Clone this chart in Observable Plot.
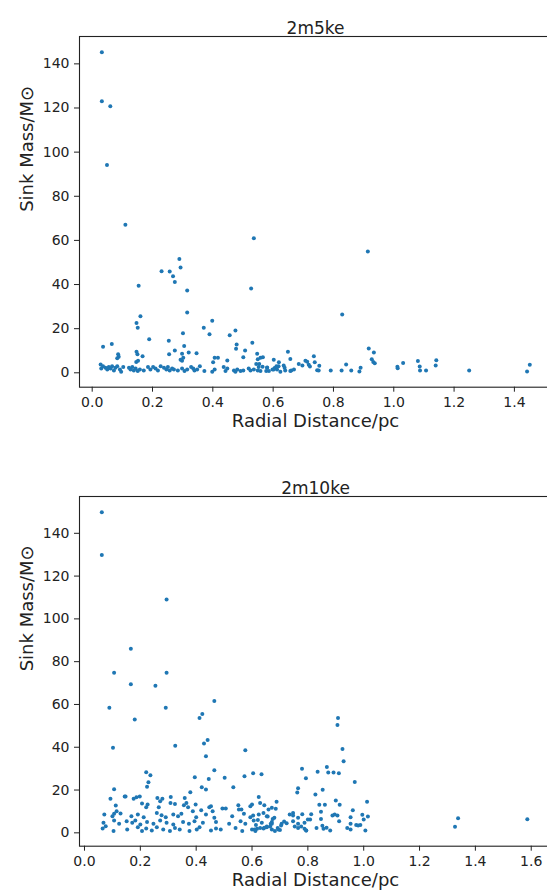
<!DOCTYPE html>
<html><head><meta charset="utf-8">
<script src="https://cdn.jsdelivr.net/npm/d3@7"></script>
<script src="https://cdn.jsdelivr.net/npm/@observablehq/plot@0.6"></script>
<style>
html,body{margin:0;padding:0;background:#fff;overflow:hidden;width:547px;height:894px;position:relative}
#top,#bot{position:absolute;left:0;width:547px;overflow:hidden}
#top{top:0;height:460px}
#bot{top:460px;height:434px}
#top svg,#bot svg{max-width:none !important;width:552px;display:block}
</style></head><body>
<div id="top"></div><div id="bot"></div>
<script>
// Panel titles and axis labels
const titles = ["2m5ke", "2m10ke"];
const xLabel = "Radial Distance/pc";
const yLabel = "Sink Mass/M⊙";

// Tick values
const xTicksTop = [0, 0.2, 0.4, 0.6, 0.8, 1.0, 1.2, 1.4];
const xTicksBottom = [0, 0.2, 0.4, 0.6, 0.8, 1.0, 1.2, 1.4, 1.6];
const yTicks = [0, 20, 40, 60, 80, 100, 120, 140];

// 2m5ke: [radial distance (pc), sink mass (Msun)]
const m5kePoints = [
  [0.032,145.3],[0.032,123.1],[0.060,120.8],[0.049,94.2],[0.110,67.1],[0.536,61.0],
  [0.289,51.6],[0.293,47.7],[0.230,46.0],[0.257,45.9],[0.268,43.8],[0.274,41.1],
  [0.154,39.4],[0.315,37.3],[0.527,38.2],[0.315,27.3],[0.160,25.6],[0.147,22.6],
  [0.151,20.4],[0.398,23.6],[0.370,20.4],[0.389,17.5],[0.301,17.9],[0.475,19.2],
  [0.456,17.0],[0.189,15.2],[0.254,14.5],[0.065,13.1],[0.036,11.8],[0.305,12.2],
  [0.479,12.8],[0.531,13.6],[0.477,10.9],[0.274,10.1],[0.507,10.1],[0.320,9.2],
  [0.346,8.9],[0.255,8.4],[0.086,8.4],[0.088,7.3],[0.083,6.6],[0.147,9.5],
  [0.150,8.4],[0.146,4.9],[0.152,5.5],[0.167,7.5],[0.298,8.6],[0.302,6.8],
  [0.298,5.5],[0.293,5.9],[0.547,8.6],[0.558,6.8],[0.549,6.2],[0.649,9.5],
  [0.657,6.3],[0.602,5.9],[0.501,7.1],[0.406,6.8],[0.417,6.8],[0.448,5.6],
  [0.401,4.8],[0.685,4.0],[0.707,5.5],[0.718,3.6],[0.619,4.8],[0.635,3.3],
  [0.914,55.0],[0.829,26.4],[0.917,11.0],[0.934,9.2],[0.927,6.2],[0.932,4.9],
  [0.937,4.3],[0.566,7.0],[0.735,7.5],[0.738,4.8],[0.753,3.2],[0.722,2.9],
  [0.713,5.0],[0.697,3.3],[0.746,1.2],[0.751,1.0],[0.618,3.0],[0.605,2.2],
  [0.598,1.5],[0.613,1.5],[0.580,2.4],[0.577,0.8],[0.549,1.0],[0.544,4.0],
  [0.554,4.0],[0.565,2.8],[0.640,1.0],[0.660,1.0],[0.791,1.0],[0.827,1.0],
  [0.842,3.8],[0.859,1.0],[0.886,0.6],[0.890,2.3],[1.012,2.7],[1.013,2.1],
  [1.031,4.5],[1.080,5.4],[1.086,2.9],[1.087,1.0],[1.107,1.0],[1.139,3.3],
  [1.141,5.7],[1.250,1.0],[1.442,0.6],[1.451,3.6],
  [0.028,3.8],[0.030,2.0],[0.036,3.0],[0.044,2.3],[0.050,1.5],[0.055,2.6],
  [0.061,2.0],[0.066,3.0],[0.072,1.1],[0.077,2.3],[0.083,3.0],[0.092,1.5],
  [0.096,0.5],[0.103,2.6],[0.122,2.3],[0.127,1.5],[0.133,2.6],[0.138,1.1],
  [0.144,2.0],[0.151,0.8],[0.158,1.5],[0.171,1.1],[0.185,2.6],[0.193,1.5],
  [0.202,2.6],[0.210,2.0],[0.218,1.1],[0.227,3.0],[0.238,2.3],[0.246,1.5],
  [0.251,2.6],[0.257,1.1],[0.265,2.0],[0.271,1.5],[0.284,1.1],[0.298,2.0],
  [0.306,0.8],[0.315,1.5],[0.328,2.6],[0.335,2.0],[0.339,1.1],[0.348,1.5],
  [0.357,3.0],[0.372,0.8],[0.398,0.5],[0.406,1.5],[0.436,2.6],[0.442,0.8],
  [0.448,2.0],[0.470,1.1],[0.475,0.5],[0.481,1.5],[0.492,0.8],[0.501,1.1],
  [0.519,2.0],[0.525,1.1],[0.536,1.5],[0.552,2.6],[0.558,0.8],[0.580,2.3],
  [0.586,0.8],[0.602,1.5],[0.611,3.0],[0.624,0.5],[0.638,2.3],[0.657,0.8],
  [0.669,1.5]
];

// 2m10ke: [radial distance (pc), sink mass (Msun)]
const m10kePoints = [
  [0.062,149.8],[0.062,129.9],[0.294,109.0],[0.166,86.0],[0.106,74.8],[0.294,74.8],
  [0.166,69.5],[0.254,68.7],[0.465,61.6],[0.089,58.5],[0.291,58.5],[0.422,55.5],
  [0.412,53.7],[0.180,53.0],[0.441,43.4],[0.428,41.7],[0.102,39.8],[0.325,40.7],
  [0.576,38.6],[0.435,35.8],[0.465,29.2],[0.221,28.3],[0.236,26.9],[0.604,27.8],
  [0.634,27.4],[0.573,26.4],[0.395,26.0],[0.445,25.2],[0.502,25.7],[0.229,23.6],
  [0.224,21.5],[0.420,21.3],[0.435,20.2],[0.106,20.4],[0.533,21.3],[0.379,19.0],
  [0.093,15.9],[0.144,17.0],[0.147,17.0],[0.176,15.9],[0.186,16.6],[0.198,17.0],
  [0.261,16.3],[0.279,15.9],[0.309,16.8],[0.359,16.3],[0.624,16.8],[0.688,14.5],
  [0.112,12.8],[0.206,13.7],[0.226,13.2],[0.271,14.8],[0.308,14.0],[0.365,14.0],
  [0.398,13.2],[0.453,12.4],[0.551,12.9],[0.600,13.2],[0.644,12.9],[0.671,11.7],
  [0.115,10.1],[0.221,12.0],[0.266,12.0],[0.324,13.5],[0.356,12.9],[0.371,12.0],
  [0.388,10.1],[0.418,10.6],[0.447,12.0],[0.459,10.1],[0.494,11.4],[0.506,11.4],
  [0.553,10.9],[0.562,10.9],[0.594,12.4],[0.629,14.0],[0.659,10.9],
  [0.071,8.6],[0.100,7.8],[0.106,8.9],[0.129,9.0],[0.168,7.8],[0.191,8.6],
  [0.212,7.3],[0.259,9.3],[0.276,8.2],[0.291,7.3],[0.318,8.6],[0.335,7.8],
  [0.347,8.9],[0.400,7.3],[0.435,8.6],[0.465,7.0],[0.529,7.8],[0.571,8.9],
  [0.594,7.3],[0.624,8.6],[0.653,7.8],[0.735,8.6],[0.765,7.0],
  [0.068,4.7],[0.106,5.8],[0.124,4.2],[0.151,5.4],[0.171,4.7],[0.182,5.8],
  [0.200,3.9],[0.224,5.1],[0.247,4.2],[0.271,5.8],[0.294,4.7],[0.318,3.9],
  [0.353,5.1],[0.374,4.2],[0.394,5.4],[0.424,4.7],[0.471,5.1],[0.518,4.2],
  [0.559,5.4],[0.576,4.2],[0.606,5.8],[0.635,4.7],[0.671,5.1],[0.706,4.2],
  [0.747,5.4],[0.788,4.7],
  [0.065,2.0],[0.076,3.1],[0.104,0.8],[0.153,1.6],[0.191,2.6],[0.206,0.8],
  [0.221,2.0],[0.241,1.1],[0.259,2.6],[0.282,1.6],[0.306,0.8],[0.324,2.3],
  [0.341,1.6],[0.376,0.8],[0.402,1.6],[0.412,2.6],[0.453,1.1],[0.471,2.0],
  [0.488,1.6],[0.541,2.3],[0.565,0.8],[0.600,1.6],[0.612,0.8],[0.641,2.0],
  [0.653,2.6],[0.682,0.8],[0.694,1.6],[0.765,2.3],[0.794,1.1],
  [0.908,53.7],[0.906,50.4],[0.924,39.2],[0.928,33.4],[0.779,30.0],[0.793,25.5],
  [0.968,23.8],[0.868,30.8],[0.835,28.5],[0.873,28.2],[0.892,28.2],[0.911,27.8],
  [0.765,20.8],[0.762,18.8],[0.853,20.1],[0.827,17.9],[0.900,15.1],[1.012,14.5],
  [0.841,13.1],[0.861,13.1],[0.914,13.1],[0.685,11.2],[0.961,10.6],
  [0.641,9.3],[0.656,7.6],[0.747,9.3],[0.747,8.1],[0.780,8.7],[0.812,8.7],
  [0.808,6.2],[0.800,6.2],[0.847,9.9],[0.847,6.5],[0.888,8.1],[0.896,8.6],
  [0.906,8.1],[0.912,5.4],[0.953,7.3],[0.953,4.2],[0.995,8.4],[1.015,7.6],
  [1.000,6.2],[0.973,3.7],[0.980,3.4],[0.988,3.7],[0.941,2.2],[0.953,1.5],
  [1.006,1.1],[0.880,1.1],[0.867,2.4],[0.856,1.9],[0.852,3.3],[0.831,2.2],
  [0.794,1.1],[0.788,1.9],[0.776,2.9],[0.765,4.2],[0.753,2.9],[0.724,4.5],
  [0.715,5.3],[0.704,3.4],[0.700,1.3],[0.692,2.2],[0.671,1.5],[0.665,2.9],
  [0.671,4.2],[0.680,7.0],[0.674,6.5],[0.667,4.2],[0.653,2.9],[0.644,2.4],
  [0.629,2.2],[0.618,1.9],[0.609,1.5],[0.614,3.7],[0.621,6.0],[0.604,8.1],
  [1.327,2.8],[1.338,6.8],[1.586,6.4]
];

function panel({title, points, xDomain, yDomain, xTicks, height, marginBottom, xLabelDy}) {
  const data = points.map(([r, m]) => ({r, m}));
  return Plot.plot({
    width: 552, height, marginLeft: 79, marginRight: 1, marginTop: 36, marginBottom,
    style: {fontFamily: "'DejaVu Sans', sans-serif", fontSize: "14px", color: "#222", background: "#fff", overflow: "visible", maxWidth: "none"},
    x: {domain: xDomain, ticks: xTicks, tickFormat: d3.format(".1f"), tickSize: 5, tickPadding: 5, label: null},
    y: {domain: yDomain, ticks: yTicks, tickFormat: "d", tickSize: 5, tickPadding: 5, label: null},
    marks: [
      Plot.dot(data, {x: "r", y: "m", r: 2, fill: "#1f77b4", stroke: null}),
      Plot.frame({stroke: "#222", strokeWidth: 1.1}),
      Plot.text([title], {text: d => d, frameAnchor: "top", dy: -15, fontSize: 17, fill: "#222"}),
      Plot.text([xLabel], {text: d => d, frameAnchor: "bottom", dy: xLabelDy, fontSize: 18, fill: "#222"}),
      Plot.text([yLabel], {text: d => d, frameAnchor: "left", dx: -52, rotate: -90, fontSize: 18, fill: "#222"})
    ]
  });
}

document.getElementById("top").appendChild(panel({
  title: titles[0], points: m5kePoints,
  xDomain: [-0.0421, 1.523], yDomain: [-6.52, 152.4], xTicks: xTicksTop,
  height: 440, marginBottom: 53.3, xLabelDy: 40
}));
document.getElementById("bot").appendChild(panel({
  title: titles[1], points: m10kePoints,
  xDomain: [-0.0179, 1.6726], yDomain: [-6.25, 157.2], xTicks: xTicksBottom,
  height: 434, marginBottom: 48.3, xLabelDy: 40
}));
</script>
</body></html>
